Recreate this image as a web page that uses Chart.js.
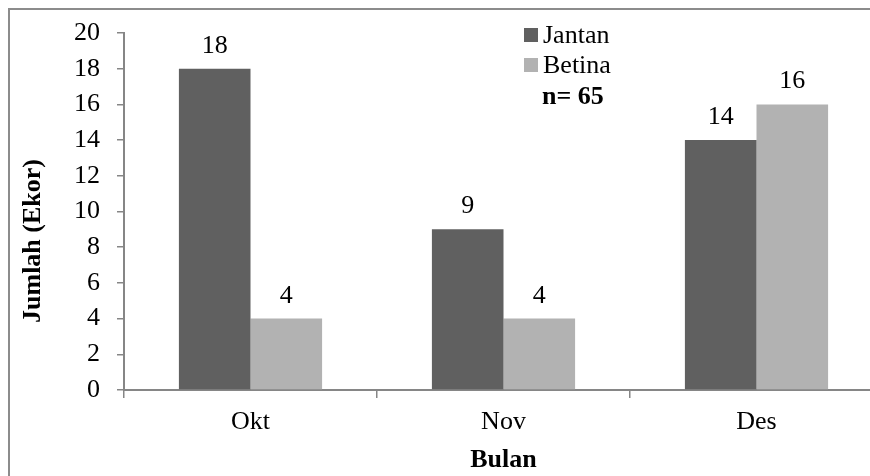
<!DOCTYPE html>
<html>
<head>
<meta charset="utf-8">
<script src="https://cdn.jsdelivr.net/npm/chart.js@4/dist/chart.umd.min.js"></script>
<style>
  html, body { margin: 0; padding: 0; background: #fff; overflow: hidden; }
  #wrap { width: 900px; height: 476px; }
</style>
</head>
<body>
<div id="wrap"><canvas id="c" width="900" height="476"></canvas></div>
<script>
// Monthly counts by sex
const months = ['Okt', 'Nov', 'Des'];
const jantan = [18, 9, 14];
const betina = [4, 4, 16];
const seriesNames = ['Jantan', 'Betina'];
const totalLabel = 'n= 65';
const yTitle = 'Jumlah (Ekor)';
const xTitle = 'Bulan';
const yTicks = [0, 2, 4, 6, 8, 10, 12, 14, 16, 18, 20];

const SERIF = '"Liberation Serif", "Times New Roman", serif';
const AXIS_GRAY = '#868686';
const DARK = '#606060';
const LIGHT = '#b2b2b2';

// outer frame
const framePlugin = {
  id: 'frame',
  beforeDraw(chart) {
    const ctx = chart.ctx;
    ctx.save();
    ctx.strokeStyle = '#8c8c8c';
    ctx.lineWidth = 2;
    ctx.strokeRect(9, 9, 2000, 2000);
    ctx.restore();
  }
};

// vertical axis title, centred lower than the scale box
const yTitlePlugin = {
  id: 'yTitle',
  afterDraw(chart) {
    const ctx = chart.ctx;
    ctx.save();
    ctx.translate(33, 241);
    ctx.rotate(-Math.PI / 2);
    ctx.font = 'bold 26px ' + SERIF;
    ctx.fillStyle = '#000';
    ctx.textAlign = 'center';
    ctx.textBaseline = 'middle';
    ctx.fillText(yTitle, 0, 0);
    ctx.restore();
  }
};

// value labels above each bar
const valueLabels = {
  id: 'valueLabels',
  afterDatasetsDraw(chart) {
    const ctx = chart.ctx;
    ctx.save();
    ctx.font = '26px ' + SERIF;
    ctx.fillStyle = '#000';
    ctx.textAlign = 'center';
    ctx.textBaseline = 'alphabetic';
    chart.data.datasets.forEach((ds, i) => {
      chart.getDatasetMeta(i).data.forEach((bar, j) => {
        ctx.fillText(String(ds.data[j]), bar.x, bar.y - 16);
      });
    });
    ctx.restore();
  }
};

// legend block with sample size
const legendBlock = {
  id: 'legendBlock',
  afterDraw(chart) {
    const ctx = chart.ctx;
    const x0 = 524, rows = [35, 65];
    ctx.save();
    ctx.textBaseline = 'middle';
    ctx.textAlign = 'left';
    chart.data.datasets.forEach((ds, i) => {
      ctx.fillStyle = ds.backgroundColor;
      ctx.fillRect(x0, rows[i] - 7, 14, 14);
      ctx.fillStyle = '#000';
      ctx.font = '26px ' + SERIF;
      ctx.fillText(ds.label, x0 + 19, rows[i] + 1);
    });
    ctx.font = 'bold 26px ' + SERIF;
    ctx.fillText(totalLabel, x0 + 18, 97);
    ctx.restore();
  }
};

new Chart(document.getElementById('c'), {
  type: 'bar',
  data: {
    labels: months,
    datasets: [
      { label: seriesNames[0], data: jantan, backgroundColor: DARK },
      { label: seriesNames[1], data: betina, backgroundColor: LIGHT }
    ]
  },
  options: {
    responsive: false,
    animation: false,
    devicePixelRatio: 1,
    layout: { padding: { left: 12, top: 33, right: 17, bottom: 0 } },
    datasets: { bar: { categoryPercentage: 0.566, barPercentage: 1.0 } },
    plugins: { legend: { display: false }, tooltip: { enabled: false } },
    scales: {
      x: {
        offset: true,
        grid: { offset: true, drawOnChartArea: false, drawTicks: true, tickLength: 8, color: AXIS_GRAY, lineWidth: 1.5 },
        border: { color: AXIS_GRAY, width: 2 },
        ticks: { color: '#000', font: { family: SERIF, size: 26 }, padding: 9 },
        title: { display: true, text: xTitle, color: '#000', font: { family: SERIF, size: 26, weight: 'bold' }, padding: { top: 0, bottom: 0 } },
        afterFit(scale) { scale.height = 476 - 390; }
      },
      y: {
        min: 0,
        max: 20,
        afterBuildTicks(scale) { scale.ticks = yTicks.map(v => ({ value: v })); },
        grid: { drawOnChartArea: false, drawTicks: true, tickLength: 7, color: AXIS_GRAY, lineWidth: 1.5 },
        border: { color: AXIS_GRAY, width: 2 },
        ticks: { color: '#000', font: { family: SERIF, size: 26 }, padding: 17 },
        title: { display: false },
        afterFit(scale) { scale.width = 124 - 12; }
      }
    }
  },
  plugins: [framePlugin, valueLabels, legendBlock, yTitlePlugin]
});
</script>
</body>
</html>
